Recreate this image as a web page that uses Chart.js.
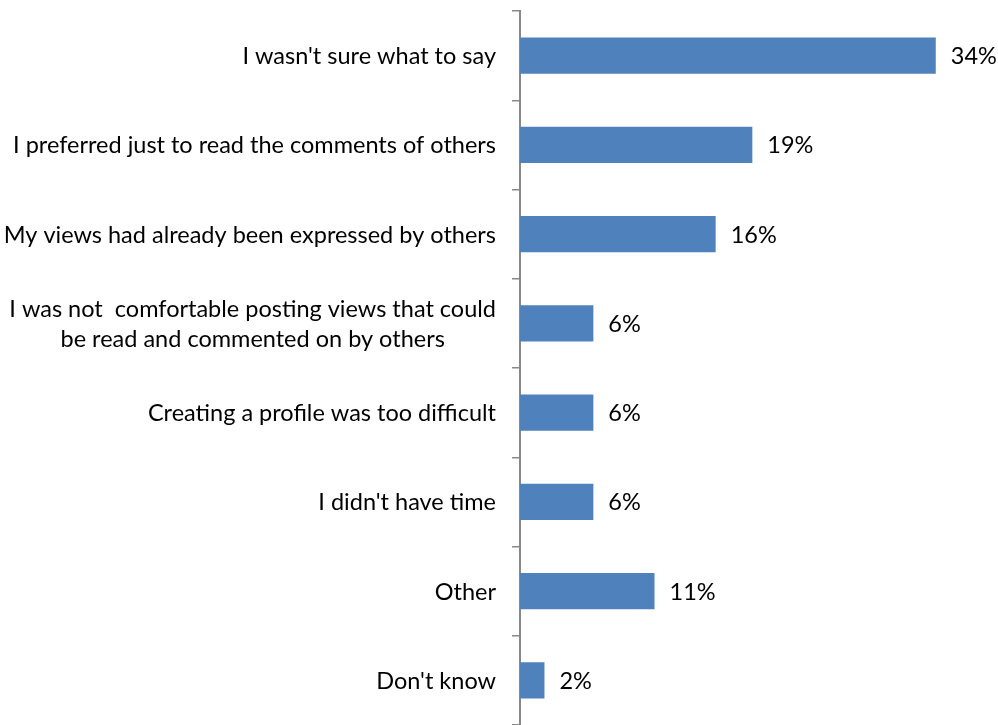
<!DOCTYPE html>
<html>
<head>
<meta charset="utf-8">
<script src="https://cdn.jsdelivr.net/npm/chart.js@4.4.1/dist/chart.umd.min.js"></script>
<style>
    html, body { margin: 0; padding: 0; background: #fff; overflow: hidden; }
    #wrap { width: 998px; height: 725px; position: relative; }
</style>
</head>
<body>
<div id="wrap"><canvas id="reasonsChart"></canvas></div>
<script>
const reasons = [
    ["I wasn't sure what to say"],
    ["I preferred just to read the comments of others"],
    ["My views had already been expressed by others"],
    ["I was not  comfortable posting views that could", "be read and commented on by others"],
    ["Creating a profile was too difficult"],
    ["I didn't have time"],
    ["Other"],
    ["Don't know"]
];
const shares = [34, 19, 16, 6, 6, 6, 11, 2];
const valueLabels = ["34%", "19%", "16%", "6%", "6%", "6%", "11%", "2%"];

const FONT = "Lato, 'Open Sans', sans-serif";
const FONT_SIZE = 23.5;

// category names on the left, centred line by line, right edge near the axis
const categoryLabels = {
    id: "categoryLabels",
    afterDraw(chart) {
        const ctx = chart.ctx;
        const yScale = chart.scales.y;
        const right = chart.chartArea.left - 24;
        ctx.save();
        ctx.font = FONT_SIZE + "px " + FONT;
        ctx.fillStyle = "#000";
        ctx.textBaseline = "middle";
        ctx.textAlign = "center";
        reasons.forEach((lines, i) => {
            const y = yScale.getPixelForValue(i) + 1;
            const widest = Math.max(...lines.map(l => ctx.measureText(l).width));
            const cx = right - widest / 2;
            const lineH = 30;
            const top = y - (lines.length - 1) * lineH / 2;
            lines.forEach((l, j) => ctx.fillText(l, cx, top + j * lineH));
        });
        ctx.restore();
    }
};

// percentage next to the end of each bar
const valueTags = {
    id: "valueTags",
    afterDatasetsDraw(chart) {
        const ctx = chart.ctx;
        const meta = chart.getDatasetMeta(0);
        ctx.save();
        ctx.font = FONT_SIZE + "px " + FONT;
        ctx.fillStyle = "#000";
        ctx.textBaseline = "middle";
        ctx.textAlign = "left";
        meta.data.forEach((bar, i) => {
            ctx.fillText(valueLabels[i], bar.x + 15, bar.y + 1);
        });
        ctx.restore();
    }
};

new Chart(document.getElementById("reasonsChart"), {
    type: "bar",
    data: {
        labels: reasons,
        datasets: [{
            data: shares,
            backgroundColor: "#4F81BD",
            borderWidth: 0,
            barPercentage: 0.405,
            categoryPercentage: 1
        }]
    },
    options: {
        indexAxis: "y",
        responsive: true,
        maintainAspectRatio: false,
        animation: false,
        layout: { padding: { top: 11, right: 50, bottom: 0, left: 0 } },
        plugins: {
            legend: { display: false },
            tooltip: { enabled: false }
        },
        scales: {
            x: {
                display: false,
                min: 0,
                max: 35
            },
            y: {
                offset: true,
                afterFit(scale) { scale.width = 520; },
                ticks: { display: false },
                grid: {
                    offset: true,
                    drawOnChartArea: false,
                    drawTicks: true,
                    tickLength: 8,
                    color: "#888",
                    lineWidth: 1.5
                },
                border: { display: true, color: "#888", width: 2 }
            }
        }
    },
    plugins: [categoryLabels, valueTags]
});
</script>
</body>
</html>
